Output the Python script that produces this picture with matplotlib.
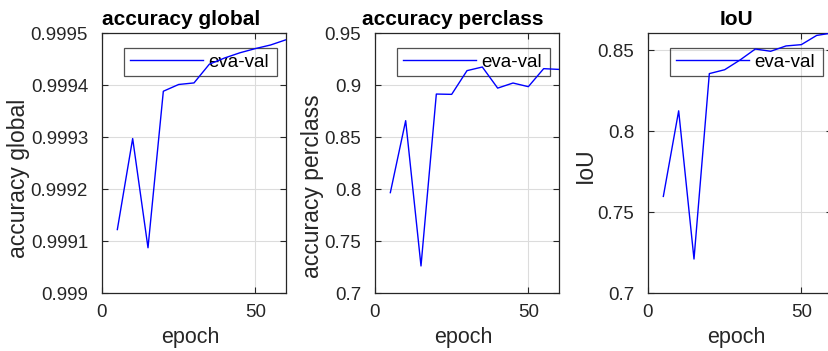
import matplotlib
matplotlib.use("Agg")
from matplotlib import pyplot as plt

plt.rcParams['font.family'] = ['Liberation Sans', 'DejaVu Sans']

epoch = [5, 10, 15, 20, 25, 30, 35, 40, 45, 50, 55, 60]

acc_global = [0.999122, 0.999297, 0.999087, 0.999388, 0.999401, 0.999404,
              0.999440, 0.999452, 0.999462, 0.999470, 0.999477, 0.999487]
acc_perclass = [0.7965, 0.8657, 0.7260, 0.8913, 0.8910, 0.9138,
                0.9173, 0.8970, 0.9019, 0.8984, 0.9157, 0.9150]
iou = [0.7597, 0.8126, 0.7210, 0.8356, 0.8380, 0.8440,
       0.8508, 0.8494, 0.8527, 0.8535, 0.8592, 0.8607]

panels = [
    ("accuracy global", acc_global, (0.999, 0.9995),
     [0.999, 0.9991, 0.9992, 0.9993, 0.9994, 0.9995],
     ["0.999", "0.9991", "0.9992", "0.9993", "0.9994", "0.9995"]),
    ("accuracy perclass", acc_perclass, (0.7, 0.95),
     [0.7, 0.75, 0.8, 0.85, 0.9, 0.95],
     ["0.7", "0.75", "0.8", "0.85", "0.9", "0.95"]),
    ("IoU", iou, (0.7, 0.8607),
     [0.7, 0.75, 0.8, 0.85],
     ["0.7", "0.75", "0.8", "0.85"]),
]

# panel left edges (px) and where the MATLAB-ish labels sit
lefts = [102, 375, 648]
title_x = [0.43, 0.42, 0.478]
ylabel_y = [0.442, 0.412, 0.492]
W, H = 829, 351

fig = plt.figure(figsize=(W / 100, H / 100), dpi=100)
fig.patch.set_facecolor('white')

for left, tx, ly, (name, vals, ylim, yt, ytl) in zip(lefts, title_x, ylabel_y, panels):
    ax = fig.add_axes([left / W, 1 - 293 / H, 184 / W, 260 / H])
    ax.plot(epoch, vals, color='#0000ff', lw=1.0, label='eva-val', zorder=5)
    ax.set_xlim(0, 60)
    ax.set_ylim(*ylim)
    ax.set_xticks([0, 50])
    ax.set_yticks(yt)
    ax.set_yticklabels(ytl)
    ax.grid(True, color='#dcdcdc', lw=0.8)
    ax.set_axisbelow(True)
    for s in ax.spines.values():
        s.set_color('#262626')
        s.set_linewidth(0.9)
    ax.tick_params(direction='in', length=4, width=0.8, colors='#262626',
                   labelsize=13.5, top=True, right=True)
    ax.tick_params(axis='y', pad=10)
    ax.tick_params(axis='x', pad=8)
    ax.set_xlabel('epoch', fontsize=15.5, color='#262626', labelpad=4, x=0.48)
    ax.set_ylabel(name, fontsize=16.5, color='#262626', labelpad=0.5, y=ly)
    ax.set_title(name, fontsize=15, fontweight='bold', pad=6, x=tx)
    leg = ax.legend(loc='upper left', bbox_to_anchor=(0.12, 0.827, 0.83, 0.115),
                    mode='expand', fontsize=13.5, handlelength=3.9,
                    handletextpad=0.3, borderpad=0.3, borderaxespad=0,
                    fancybox=False)
    leg.get_frame().set_facecolor('none')
    leg.get_frame().set_edgecolor('#262626')
    leg.get_frame().set_linewidth(0.9)
    leg.set_zorder(4)

plt.savefig('out.png', dpi=100)
